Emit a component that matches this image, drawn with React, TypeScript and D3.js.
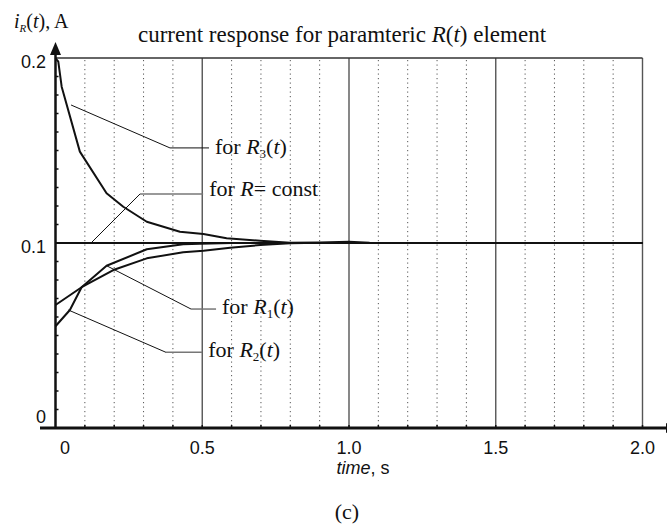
import React from 'react';
import * as d3 from 'd3';

const W = 667;
const H = 527;

// axis domains
const tDomain = [0, 2];
const iDomain = [0, 0.2];

// tick values / labels
const xTickValues = [0, 0.5, 1.0, 1.5, 2.0];
const xTickLabels = ['0', '0.5', '1.0', '1.5', '2.0'];
const yTickValues = [0, 0.1, 0.2];
const yTickLabels = ['0', '0.1', '0.2'];
const majorGridT = [0.5, 1.0, 1.5, 2.0];
const minorGridT = [0.1, 0.2, 0.3, 0.4, 0.6, 0.7, 0.8, 0.9, 1.1, 1.2, 1.3, 1.4, 1.6, 1.7, 1.8, 1.9];
const yMinorTicks = [0.01, 0.02, 0.03, 0.04, 0.05, 0.06, 0.07, 0.08, 0.09, 0.11, 0.12, 0.13, 0.14, 0.15, 0.16, 0.17, 0.18, 0.19];

// series
const constT = [0, 2.0];
const constI = [0.1, 0.1];

const r3T = [0, 0.0095, 0.021, 0.083, 0.174, 0.231, 0.311, 0.424, 0.504, 0.583, 0.697, 0.799, 0.9, 1.0, 1.07, 1.17, 2.0];
const r3I = [0.2, 0.198, 0.1845, 0.1494, 0.1269, 0.1196, 0.1115, 0.1061, 0.1049, 0.1026, 0.1012, 0.1002, 0.1003, 0.1007, 0.1002, 0.1, 0.1];

const r1T = [0, 0.049, 0.089, 0.174, 0.311, 0.435, 0.492, 0.6, 2.0];
const r1I = [0.055, 0.0638, 0.0761, 0.0877, 0.0966, 0.0993, 0.0996, 0.1, 0.1];

const r2T = [0, 0.089, 0.197, 0.311, 0.435, 0.504, 0.595, 0.697, 0.799, 0.85, 2.0];
const r2I = [0.0665, 0.0761, 0.0854, 0.0917, 0.095, 0.0958, 0.0974, 0.0989, 0.0998, 0.1, 0.1];

// annotation leader lines (data units)
const r3PtrT = [0.053, 0.39, 0.523];
const r3PtrI = [0.1746, 0.1514, 0.1514];
const constPtrT = [0.121, 0.288, 0.503];
const constPtrI = [0.1, 0.1265, 0.1265];
const r1PtrT = [0.1744, 0.4617, 0.547];
const r1PtrI = [0.0877, 0.0643, 0.0643];
const r2PtrT = [0.0436, 0.3765, 0.5];
const r2PtrI = [0.0638, 0.0409, 0.0409];

const SERIF = '"Liberation Serif", "Times New Roman", serif';
const SANS = '"Liberation Sans", Arial, sans-serif';

export default function App() {
  const x = d3.scaleLinear().domain(tDomain).range([55.5, 642.5]);
  const y = d3.scaleLinear().domain(iDomain).range([428, 58]);

  const line = d3
    .line<[number, number]>()
    .x((d) => x(d[0]))
    .y((d) => y(d[1]));
  const zip = (ts: number[], vs: number[]) => ts.map((t, i) => [t, vs[i]] as [number, number]);

  const seg = (ts: number[], vs: number[]) => {
    const pts = zip(ts, vs);
    return {
      diag: line(pts.slice(0, 2)) as string,
      horiz: line(pts.slice(1)) as string,
      end: pts[pts.length - 1],
    };
  };

  const p3 = seg(r3PtrT, r3PtrI);
  const pc = seg(constPtrT, constPtrI);
  const p1 = seg(r1PtrT, r1PtrI);
  const p2 = seg(r2PtrT, r2PtrI);

  const legendX = (p: { end: [number, number] }) => x(p.end[0]) + 6;
  const x0 = x(0);
  const yTop = y(0.2);
  const yBot = y(0);

  return (
    <svg
      width={W}
      height={H}
      style={{ position: 'absolute', left: 0, top: 0, background: '#fff' }}
    >
      <rect x={0} y={0} width={W} height={H} fill="#fff" />
      {/* minor dotted grid */}
      {minorGridT.map((t) => (
        <line
          key={'m' + t}
          x1={x(t)}
          x2={x(t)}
          y1={yTop + 2}
          y2={yBot}
          stroke="#555"
          strokeWidth={1}
          strokeDasharray="1.2,3.3"
        />
      ))}
      {/* major grid */}
      {majorGridT.map((t) => (
        <line
          key={'M' + t}
          x1={x(t)}
          x2={x(t)}
          y1={yTop}
          y2={yBot}
          stroke="#555"
          strokeWidth={1.4}
        />
      ))}
      {/* top border */}
      <line x1={x0} x2={x(2)} y1={yTop} y2={yTop} stroke="#333" strokeWidth={1.5} />

      {/* leader lines */}
      <path d={p3.diag} fill="none" stroke="#111" strokeWidth={1} />
      <path d={p3.horiz} fill="none" stroke="#111" strokeWidth={1} />
      <path d={pc.diag} fill="none" stroke="#111" strokeWidth={1} />
      <path d={pc.horiz} fill="none" stroke="#777" strokeWidth={1.5} />
      <path d={p1.diag} fill="none" stroke="#111" strokeWidth={1} />
      <path d={p1.horiz} fill="none" stroke="#777" strokeWidth={1.5} />
      <path d={p2.diag} fill="none" stroke="#111" strokeWidth={1} />
      <path d={p2.horiz} fill="none" stroke="#777" strokeWidth={1.5} />

      {/* series */}
      <path d={line(zip(constT, constI)) as string} fill="none" stroke="#111" strokeWidth={2.2} />
      <path d={line(zip(r2T, r2I)) as string} fill="none" stroke="#111" strokeWidth={2} strokeLinejoin="round" />
      <path d={line(zip(r1T, r1I)) as string} fill="none" stroke="#111" strokeWidth={2} strokeLinejoin="round" />
      <path d={line(zip(r3T, r3I)) as string} fill="none" stroke="#111" strokeWidth={2} strokeLinejoin="round" />

      {/* axes */}
      <line x1={40} x2={W} y1={yBot} y2={yBot} stroke="#111" strokeWidth={3} />
      <polygon points={`${W - 1},${yBot - 5} ${W + 10},${yBot} ${W - 1},${yBot + 5}`} fill="#111" />
      <line x1={x0} x2={x0} y1={yBot} y2={50} stroke="#111" strokeWidth={2.5} />
      <polygon points={`${x0},42 ${x0 - 5.5},55 ${x0 + 5.5},55`} fill="#111" />
      {yMinorTicks.map((v) => (
        <line key={'yt' + v} x1={x0} x2={x0 + 3} y1={y(v)} y2={y(v)} stroke="#111" strokeWidth={1.5} />
      ))}
      {minorGridT.concat(majorGridT).map((t) => (
        <line key={'xt' + t} x1={x(t)} x2={x(t)} y1={yBot} y2={yBot - 3} stroke="#111" strokeWidth={1.5} />
      ))}

      {/* tick labels */}
      {yTickValues.map((v, i) => (
        <text
          key={'yl' + v}
          x={46}
          y={v === 0 ? y(v) - 5 : y(v) + 10}
          textAnchor="end"
          fontFamily={SANS}
          fontSize={18}
          fill="#111"
        >
          {yTickLabels[i]}
        </text>
      ))}
      {xTickValues.map((t, i) => (
        <text
          key={'xl' + t}
          x={t === 0 ? x(t) + 9.5 : x(t)}
          y={yBot + 26}
          textAnchor="middle"
          fontFamily={SANS}
          fontSize={18}
          fill="#111"
        >
          {xTickLabels[i]}
        </text>
      ))}

      {/* axis titles */}
      <text x={363} y={474} textAnchor="middle" fontFamily={SANS} fontSize={18} fill="#111">
        <tspan fontStyle="italic">time</tspan>, s
      </text>
      <text x={14} y={28} fontFamily={SERIF} fontSize={20} fill="#111">
        <tspan fontStyle="italic">i</tspan>
        <tspan fontStyle="italic" fontSize={11} dy={4}>R</tspan>
        <tspan dy={-4}>(</tspan>
        <tspan fontStyle="italic">t</tspan>
        <tspan>), A</tspan>
      </text>
      <text x={342} y={42} textAnchor="middle" fontFamily={SERIF} fontSize={23} fill="#111">
        current response for paramteric <tspan fontStyle="italic">R</tspan>(<tspan fontStyle="italic">t</tspan>) element
      </text>
      <text x={347} y={519} textAnchor="middle" fontFamily={SERIF} fontSize={22} fill="#111">
        (c)
      </text>

      {/* legend labels */}
      <text x={legendX(p3)} y={y(p3.end[1]) + 6} fontFamily={SERIF} fontSize={22} fill="#111">
        for <tspan fontStyle="italic">R</tspan>
        <tspan fontSize={13} dy={4}>3</tspan>
        <tspan dy={-4}>(</tspan>
        <tspan fontStyle="italic">t</tspan>
        <tspan>)</tspan>
      </text>
      <text x={legendX(pc)} y={y(pc.end[1]) + 2} fontFamily={SERIF} fontSize={22} fill="#111">
        for <tspan fontStyle="italic">R</tspan>= const
      </text>
      <text x={legendX(p1)} y={y(p1.end[1]) + 5} fontFamily={SERIF} fontSize={22} fill="#111">
        for <tspan fontStyle="italic">R</tspan>
        <tspan fontSize={13} dy={4}>1</tspan>
        <tspan dy={-4}>(</tspan>
        <tspan fontStyle="italic">t</tspan>
        <tspan>)</tspan>
      </text>
      <text x={legendX(p2)} y={y(p2.end[1]) + 5} fontFamily={SERIF} fontSize={22} fill="#111">
        for <tspan fontStyle="italic">R</tspan>
        <tspan fontSize={13} dy={4}>2</tspan>
        <tspan dy={-4}>(</tspan>
        <tspan fontStyle="italic">t</tspan>
        <tspan>)</tspan>
      </text>
    </svg>
  );
}
